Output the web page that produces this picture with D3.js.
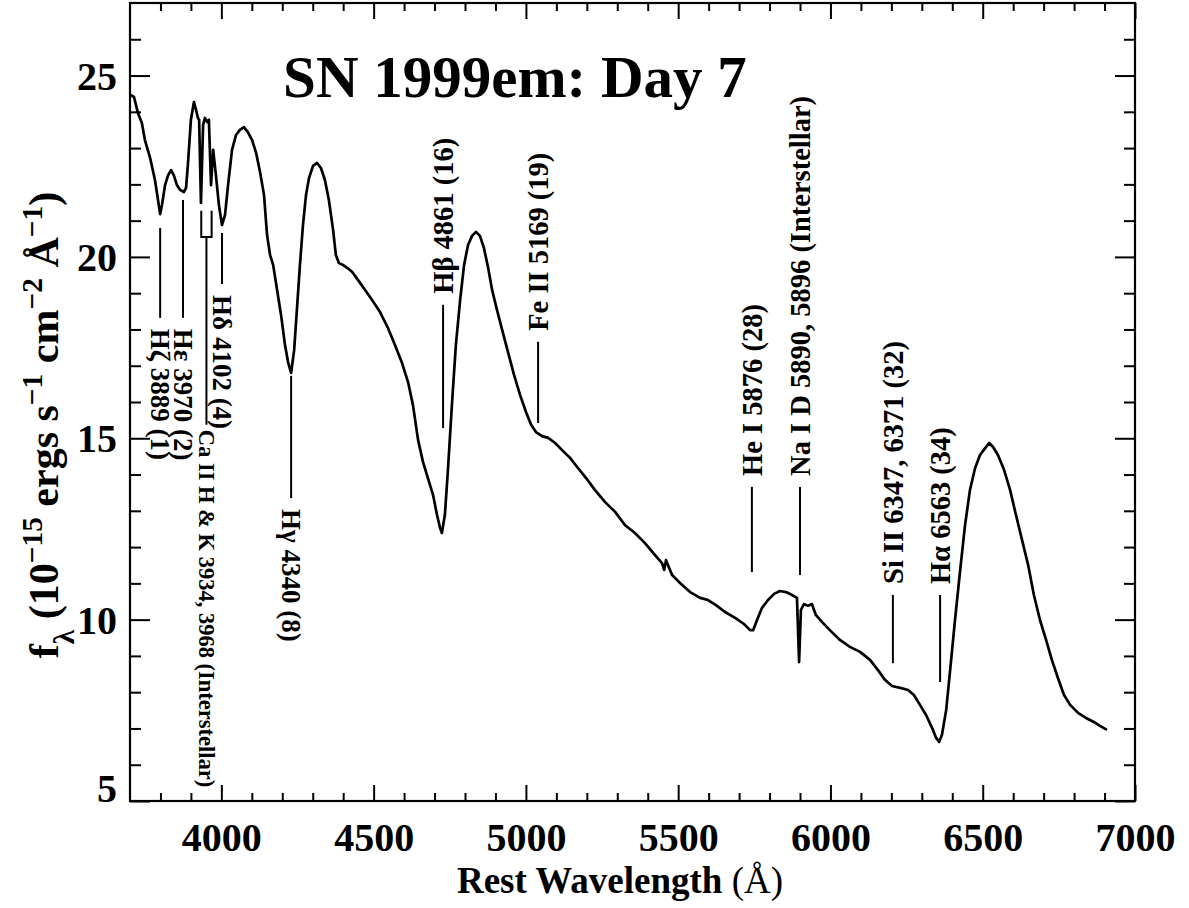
<!DOCTYPE html>
<html><head><meta charset="utf-8">
<script src="https://cdn.jsdelivr.net/npm/d3@7"></script>
<style>body{margin:0;background:#fff}svg{display:block}</style>
</head><body>
<svg id="c" width="1189" height="908"></svg>
<script>
// ---------- data ----------
const wavelength = [3700,3713,3726,3739,3749,3766,3782,3792,3799,3805,3815,3825,3835,3844,3854,3864,3877,3884,3890,3900,3910,3917,3923,3927,3933,3940,3946,3953,3959,3966,3973,3982,3992,4002,4012,4022,4035,4048,4061,4074,4087,4101,4114,4127,4140,4150,4160,4170,4183,4196,4209,4219,4229,4239,4248,4258,4268,4278,4288,4301,4314,4327,4340,4353,4367,4376,4386,4399,4413,4429,4449,4472,4495,4521,4547,4570,4593,4613,4629,4646,4662,4678,4695,4708,4718,4724,4734,4744,4757,4770,4784,4797,4810,4823,4836,4849,4862,4876,4889,4905,4922,4941,4961,4981,5000,5017,5033,5053,5073,5096,5118,5145,5171,5197,5227,5260,5293,5325,5358,5391,5424,5447,5454,5460,5480,5506,5539,5572,5598,5624,5654,5687,5716,5736,5746,5759,5775,5795,5815,5834,5854,5874,5890,5897,5903,5913,5926,5939,5952,5972,5998,6031,6064,6097,6130,6156,6179,6202,6229,6255,6274,6294,6314,6334,6347,6357,6366,6380,6393,6409,6426,6442,6458,6475,6491,6508,6521,6534,6550,6570,6590,6609,6629,6649,6668,6688,6708,6727,6747,6767,6787,6813,6839,6865,6885,6908];
const flux = [24.47,24.41,23.97,23.69,23.22,22.73,22.12,21.57,21.18,21.43,21.98,22.25,22.39,22.25,21.98,21.85,21.79,21.90,22.53,23.78,24.27,24.05,23.83,23.78,21.49,23.64,23.83,23.72,23.78,21.98,22.95,22.26,21.43,20.88,21.16,21.98,22.95,23.36,23.50,23.58,23.44,23.22,22.87,22.34,21.71,20.61,20.05,19.78,19.09,18.40,17.57,17.10,16.80,17.43,18.54,19.78,20.88,21.71,22.18,22.51,22.59,22.45,22.12,21.57,20.74,20.05,19.83,19.78,19.70,19.59,19.36,19.09,18.81,18.48,18.04,17.57,17.08,16.55,15.92,14.95,14.35,13.91,13.44,12.89,12.53,12.39,12.89,14.13,15.92,17.57,18.81,19.78,20.33,20.58,20.69,20.58,20.25,19.70,19.09,18.54,17.99,17.38,16.75,16.19,15.73,15.37,15.17,15.06,15.01,14.87,14.68,14.46,14.18,13.91,13.57,13.24,12.97,12.61,12.39,12.11,11.78,11.56,11.37,11.64,11.23,11.01,10.76,10.60,10.54,10.40,10.21,10.05,9.88,9.71,9.71,9.99,10.32,10.54,10.71,10.79,10.76,10.68,10.60,8.83,10.27,10.43,10.38,10.43,10.13,9.94,9.71,9.44,9.25,9.11,8.89,8.61,8.34,8.17,8.12,8.06,7.92,7.65,7.37,7.01,6.74,6.63,6.82,7.51,8.61,9.99,11.37,12.61,13.57,14.18,14.54,14.73,14.87,14.76,14.54,14.13,13.57,12.89,12.20,11.51,10.68,9.99,9.44,8.89,8.39,7.92,7.65,7.43,7.29,7.18,7.07,6.96];

const xTickValues = [4000,4500,5000,5500,6000,6500,7000];
const xTickLabels = ["4000","4500","5000","5500","6000","6500","7000"];
const yTickValues = [5,10,15,20,25];
const yTickLabels = ["5","10","15","20","25"];

const titleText = "SN 1999em: Day 7";

// line identifications (marker wavelength, marker top / bottom flux, direction)
const idLabels = ["H\u03B6 3889 (1)","H\u03B5 3970 (2)","H\u03B4 4102 (4)","H\u03B3 4340 (8)",
                  "H\u03B2 4861 (16)","Fe II 5169 (19)","He I 5876 (28)","Na I D 5890, 5896 (Interstellar)",
                  "Si II 6347, 6371 (32)","H\u03B1 6563 (34)"];
const idWave   = [3799,3874,4002,4229,4728,5040,5742,5900,6205,6360];
const idTop    = [20.80,21.57,20.66,16.72,18.68,17.66,13.66,13.66,10.68,10.68];
const idBottom = [18.32,18.32,19.25,13.35,15.28,15.42,11.31,11.23,8.80,8.28];
const idDir    = ["down","down","down","down","up","up","up","up","up","up"];

// interstellar Ca II H & K bracket
const caLabel = "Ca II H & K 3934, 3968 (Interstellar)";
const caWaves = [3934,3968];
const caBracketTop = 21.27, caBracketBottom = 20.55, caStemBottom = 15.37;

// ---------- drawing ----------
const FONT = "'Liberation Serif','Times New Roman',Times,serif";
const svg = d3.select("#c");
const L=130,R=1135,T=3,B=801;
const x = d3.scaleLinear().domain([3700,7000]).range([L,R]);
const y = d3.scaleLinear().domain([5,27]).range([B,T]);

svg.append("rect").attr("width",1189).attr("height",908).attr("fill","#fff");

const xMinor = d3.range(3800,7000,100).filter(v=>v%500!==0);
const yMinor = d3.range(6,27,1).filter(v=>v%5!==0);

function styleAxis(g){
  g.select(".domain").remove();
  g.selectAll(".tick line").attr("stroke","#000").attr("stroke-width",2);
}
// bottom
svg.append("g").attr("transform",`translate(0,${B})`)
  .call(d3.axisBottom(x).tickValues(xMinor).tickSize(-8).tickFormat(""))
  .call(styleAxis);
const xb = svg.append("g").attr("transform",`translate(0,${B})`)
  .call(d3.axisBottom(x).tickValues(xTickValues).tickSize(-16).tickPadding(22)
        .tickFormat((d,i)=>xTickLabels[i]))
  .call(styleAxis);
xb.selectAll(".tick text").attr("font-family",FONT).attr("font-size",40).attr("font-weight","bold").attr("fill","#000");
// top
svg.append("g").attr("transform",`translate(0,${T})`)
  .call(d3.axisTop(x).tickValues(xMinor).tickSize(-8).tickFormat("")).call(styleAxis);
svg.append("g").attr("transform",`translate(0,${T})`)
  .call(d3.axisTop(x).tickValues(xTickValues).tickSize(-16).tickFormat("")).call(styleAxis);
// left
svg.append("g").attr("transform",`translate(${L},0)`)
  .call(d3.axisLeft(y).tickValues(yMinor).tickSize(-11).tickFormat("")).call(styleAxis);
const yl = svg.append("g").attr("transform",`translate(${L},0)`)
  .call(d3.axisLeft(y).tickValues(yTickValues).tickSize(-20).tickPadding(13)
        .tickFormat((d,i)=>yTickLabels[i]))
  .call(styleAxis);
yl.selectAll(".tick text").attr("font-family",FONT).attr("font-size",40).attr("font-weight","bold").attr("fill","#000")
  .attr("dy",d=>d===5?"0em":"0.34em");
// right
svg.append("g").attr("transform",`translate(${R},0)`)
  .call(d3.axisRight(y).tickValues(yMinor).tickSize(-11).tickFormat("")).call(styleAxis);
svg.append("g").attr("transform",`translate(${R},0)`)
  .call(d3.axisRight(y).tickValues(yTickValues).tickSize(-20).tickFormat("")).call(styleAxis);

// frame
svg.append("rect").attr("x",L).attr("y",T).attr("width",R-L).attr("height",B-T)
  .attr("fill","none").attr("stroke","#000").attr("stroke-width",2.2);

// spectrum
const line = d3.line().x((d,i)=>x(wavelength[i])).y((d,i)=>y(flux[i]));
svg.append("path").datum(flux).attr("d",line).attr("fill","none")
  .attr("stroke","#000").attr("stroke-width",2.7).attr("stroke-linejoin","round");

// identification markers
const ids = svg.append("g");
idLabels.forEach((lab,i)=>{
  const xx = x(idWave[i]);
  ids.append("line").attr("x1",xx).attr("x2",xx).attr("y1",y(idTop[i])).attr("y2",y(idBottom[i]))
    .attr("stroke","#000").attr("stroke-width",2);
  const down = idDir[i]==="down";
  const ty = down ? y(idBottom[i])+11 : y(idTop[i])-11;
  ids.append("text").attr("transform",`translate(${xx},${ty}) rotate(${down?90:-90})`)
    .attr("dy","0.34em").attr("text-anchor","start")
    .attr("font-family",FONT).attr("font-size",down?27:28.5).attr("font-weight","bold").attr("fill","#000")
    .text(lab);
});
// Ca II bracket
const cx1 = x(caWaves[0]), cx2 = x(caWaves[1]), cxm = (cx1+cx2)/2;
ids.append("path")
  .attr("d",`M${cx1},${y(caBracketTop)}V${y(caBracketBottom)}H${cx2}V${y(caBracketTop)}M${cxm},${y(caBracketBottom)}V${y(caStemBottom)}`)
  .attr("fill","none").attr("stroke","#000").attr("stroke-width",2);
ids.append("text").attr("transform",`translate(${cxm},${y(caStemBottom)+5}) rotate(90)`)
  .attr("dy","0.34em").attr("font-family",FONT).attr("font-size",22.5).attr("font-weight","bold")
  .attr("fill","#000").text(caLabel);

// title
svg.append("text").attr("x",515).attr("y",97).attr("text-anchor","middle")
  .attr("font-family",FONT).attr("font-size",59).attr("font-weight","bold").attr("fill","#000")
  .text(titleText);

// x axis title
const xt = svg.append("text").attr("x",620).attr("y",893).attr("text-anchor","middle")
  .attr("font-family",FONT).attr("font-size",37).attr("fill","#000");
xt.append("tspan").attr("font-weight","bold").text("Rest Wavelength");
xt.append("tspan").text(" (\u00C5)");

// y axis title
const yt = svg.append("text").attr("transform","translate(58,425) rotate(-90)")
  .attr("text-anchor","middle").attr("font-family",FONT).attr("font-size",42)
  .attr("font-weight","bold").attr("fill","#000");
yt.append("tspan").text("f");
yt.append("tspan").attr("baseline-shift","sub").attr("font-size","70%").text("\u03BB");
yt.append("tspan").text(" (10");
yt.append("tspan").attr("baseline-shift","super").attr("font-size","70%").text("\u221215");
yt.append("tspan").text(" ergs s");
yt.append("tspan").attr("baseline-shift","super").attr("font-size","70%").text("\u22121");
yt.append("tspan").text(" cm");
yt.append("tspan").attr("baseline-shift","super").attr("font-size","70%").text("\u22122");
yt.append("tspan").text(" \u00C5");
yt.append("tspan").attr("baseline-shift","super").attr("font-size","70%").text("\u22121");
yt.append("tspan").text(")");
</script>
</body></html>
